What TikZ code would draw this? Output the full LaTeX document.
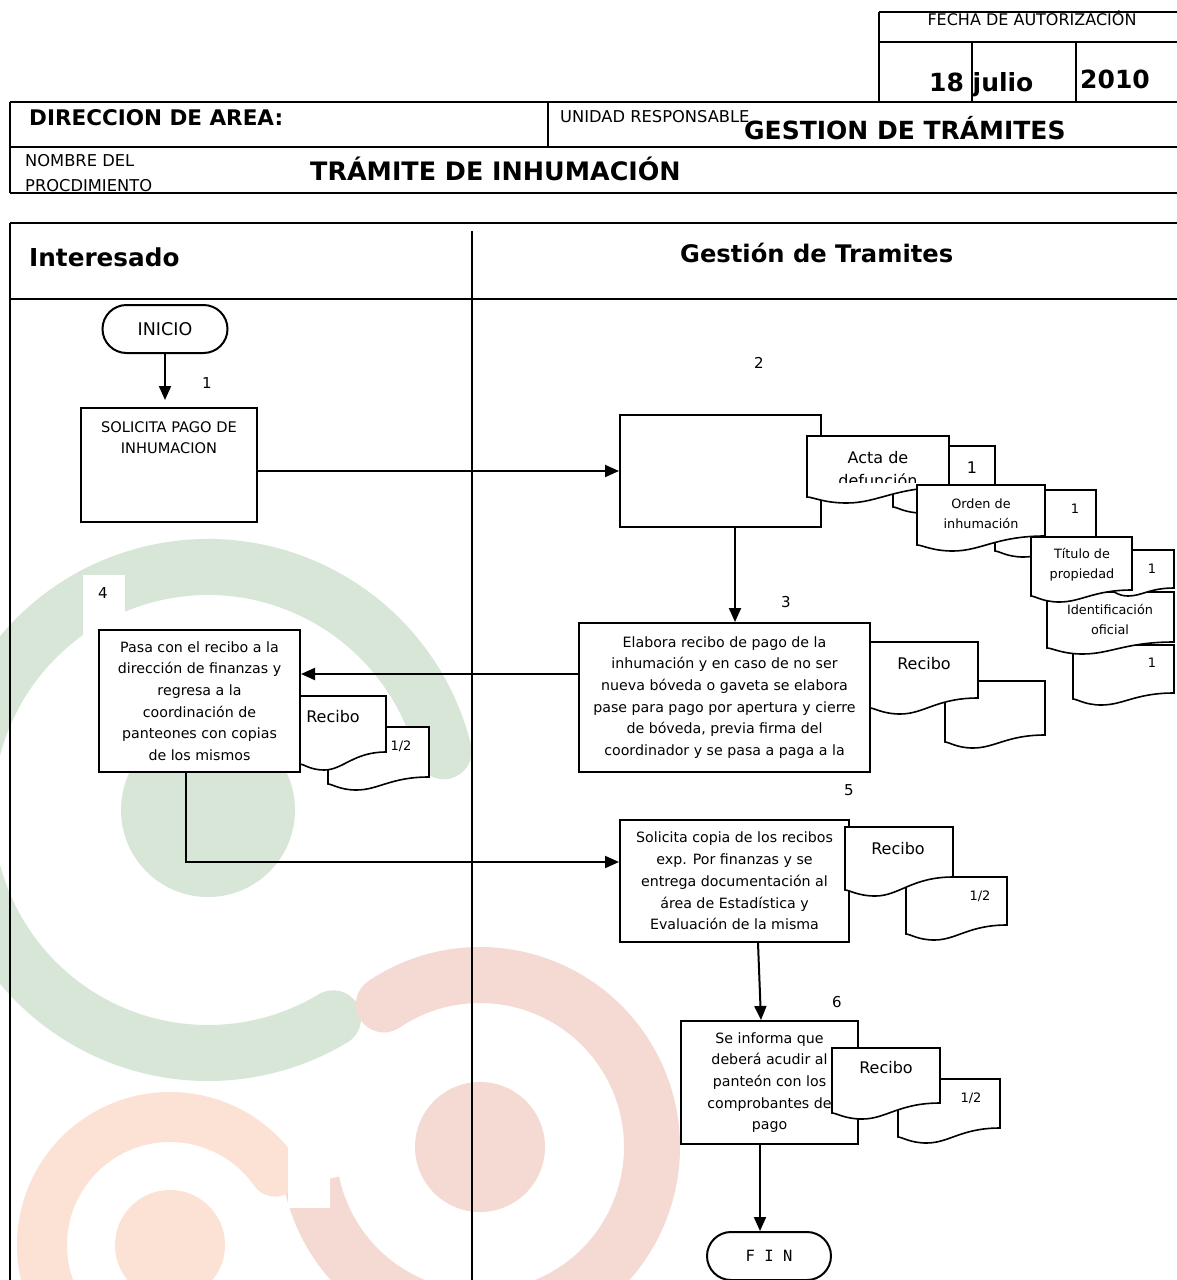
\documentclass[tikz,border=0pt]{standalone}
\usepackage{fontspec}
\setmainfont{DejaVu Sans}
\newfontfamily\monof{DejaVu Sans Mono}
\usetikzlibrary{arrows.meta}
\definecolor{wmgreen}{RGB}{215,230,215}
\definecolor{wmred}{RGB}{245,218,212}
\definecolor{wmpeach}{RGB}{251,226,212}
\newcommand{\fsz}[1]{\fontsize{#1}{#1}\selectfont}
\newcommand{\docshp}[5]{%
  \pgfmathsetmacro\dxa{#1}\pgfmathsetmacro\dya{#2}%
  \pgfmathsetmacro\dxb{#1+#3}%
  \pgfmathsetmacro\dyr{#2+#4}%
  \pgfmathsetmacro\dyl{#2+#4+#5}%
  \pgfmathsetmacro\dylow{#2+#4+#5+6}%
  \pgfmathsetmacro\dxlow{#1+0.28*#3}%
  \pgfmathsetmacro\dca{#1+0.62*#3}%
  \pgfmathsetmacro\dcb{#1+0.5*#3}%
  \pgfmathsetmacro\dcc{#1+0.12*#3}%
  \pgfmathsetmacro\dcd{#1+0.04*#3}%
  \filldraw[docsty] (\dxa,\dya) -- (\dxb,\dya) -- (\dxb,\dyr)
    .. controls (\dca,\dyr) and (\dcb,\dylow) .. (\dxlow,\dylow)
    .. controls (\dcc,\dylow) and (\dcd,\dyl) .. (\dxa,\dyl) -- cycle;}
\begin{document}
\begin{tikzpicture}[x=1pt,y=-1pt,
  tl/.style={line width=2pt},
  box/.style={draw, line width=2pt, fill=white, rectangle, inner sep=0pt, align=center,
     font=\fontsize{14.2}{21.7}\selectfont},
  term/.style={draw, line width=2pt, fill=white, rounded corners=24pt, minimum width=125pt,
     minimum height=48pt, inner sep=0pt},
  docsty/.style={draw, line width=1.6pt, fill=white},
  arr/.style={line width=2pt, -{Triangle[length=14pt,width=12pt]}},
  txt/.style={inner sep=0pt},
  lbl/.style={inner sep=0pt, font=\fsz{15}}]
\useasboundingbox (0,0) rectangle (1177,1280);
\clip (0,0) rectangle (1177,1280);
\fill[white] (0,0) rectangle (1177,1280);
% watermark
\draw[wmgreen, line width=56pt, line cap=round] ([shift={(14:243pt)}]208pt,-810pt) arc[start angle=14, end angle=301, radius=243pt];
\fill[wmgreen] (208pt,-810pt) circle[radius=87pt];
\draw[wmred, line width=56pt] ([shift={(124:172pt)}]480pt,-1147pt) arc[start angle=124, end angle=-168, radius=172pt];
\fill[wmred] ([shift={(124:172pt)}]480pt,-1147pt) circle[radius=28pt];
\fill[wmred] (480pt,-1147pt) circle[radius=65pt];
\draw[wmpeach, line width=50pt, line cap=round] ([shift={(35:128pt)}]170pt,-1245pt) arc[start angle=35, end angle=215, radius=128pt];
\fill[wmpeach] (170pt,-1245pt) circle[radius=55pt];
\fill[white] (83,575) rectangle (125,639);
\fill[white] (288,1143) rectangle (330,1208);
% header table
\draw[tl] (879,12) -- (1177,12);
\draw[tl] (879,12) -- (879,102);
\draw[tl] (879,42) -- (1177,42);
\draw[tl] (972,42) -- (972,102);
\draw[tl] (1076,42) -- (1076,102);
\draw[tl] (10,102) -- (1177,102);
\draw[tl] (10,147) -- (1177,147);
\draw[tl] (10,193) -- (1177,193);
\draw[tl] (10,102) -- (10,193);
\draw[tl] (548,102) -- (548,147);
\node[txt, font=\fsz{16}] (fecha) at (1032,18.5) {FECHA DE AUTORIZACIÓN};
\node[txt, font=\bfseries\fsz{25}, anchor=base west] (dia) at (929,91) {18 julio};
\node[txt, font=\bfseries\fsz{25}, anchor=base west] (anio) at (1080,88) {2010};
\node[txt, font=\bfseries\fsz{21.5}, anchor=west] (dir) at (29,118) {DIRECCION DE AREA:};
\node[txt, font=\fsz{16.3}, anchor=west] (unid) at (560,117) {UNIDAD RESPONSABLE};
\node[txt, font=\bfseries\fsz{25}, anchor=west] (gest) at (744,128) {GESTION DE TRÁMITES};
\node[txt, font=\fsz{16.3}, anchor=west] (nom1) at (25,161) {NOMBRE DEL};
\node[txt, font=\fsz{16.3}, anchor=west] (nom2) at (25,186) {PROCDIMIENTO};
\node[txt, font=\bfseries\fsz{25.4}, anchor=west] (tram) at (310,169) {TRÁMITE DE INHUMACIÓN};
% lanes
\draw[tl] (10,223) -- (1177,223);
\draw[tl] (10,223) -- (10,1280);
\draw[tl] (10,299) -- (1177,299);
\draw[tl] (472,231) -- (472,1280);
\node[txt, font=\bfseries\fsz{24.7}, anchor=west] (inte) at (29,257) {Interesado};
\node[txt, font=\bfseries\fsz{24.2}, anchor=west] (gt) at (680,253) {Gestión de Tramites};
% process
\node[term, font=\fsz{17.5}] (inicio) at (165,329) {INICIO};
\node[box, minimum width=176pt, minimum height=114pt] (b1) at (169,465) {};
\node[txt, align=center, font=\fontsize{14.6}{21}\selectfont] (b1t) at (169,437.5) {SOLICITA PAGO DE\\INHUMACION};
\node[box, minimum width=201pt, minimum height=112pt] (b2) at (720.5,471) {};
\node[box, minimum width=291pt, minimum height=149pt] (b3) at (724.5,697.5)
  {Elabora recibo de pago de la\\inhumación y en caso de no ser\\nueva bóveda o gaveta se elabora\\pase para pago por apertura y cierre\\de bóveda, previa firma del\\coordinador y se pasa a paga a la};
\node[box, minimum width=201pt, minimum height=142pt] (b4) at (199.5,701)
  {Pasa con el recibo a la\\dirección de finanzas y\\regresa a la\\coordinación de\\panteones con copias\\de los mismos};
\node[box, minimum width=229pt, minimum height=122pt] (b5) at (734.5,881)
  {Solicita copia de los recibos\\exp. Por finanzas y se\\entrega documentación al\\área de Estadística y\\Evaluación de la misma};
\node[box, minimum width=177pt, minimum height=123pt] (b6) at (769.5,1082.5)
  {Se informa que\\deberá acudir al\\panteón con los\\comprobantes de\\pago};
\node[term, minimum width=124pt, font=\monof\fsz{15.5}] (fin) at (769,1256) {F I N};
% documents
\docshp{328}{727}{101}{50}{7}
\docshp{300}{696}{86}{56}{12}
\node[txt, font=\fsz{16}] (r4) at (333,717) {Recibo};
\node[txt, font=\fsz{13}] (h4) at (401,746) {1/2};
\docshp{945}{681}{100}{54}{7}
\docshp{870}{642}{108}{56}{10}
\node[txt, font=\fsz{16}] (r3) at (924,664) {Recibo};
\docshp{906}{877}{101}{48}{9}
\docshp{845}{827}{108}{50}{13}
\node[txt, font=\fsz{16}] (r5) at (898,849) {Recibo};
\node[txt, font=\fsz{13}] (h5) at (980,896) {1/2};
\docshp{898}{1079}{102}{49}{9}
\docshp{832}{1048}{108}{55}{10}
\node[txt, font=\fsz{16}] (r6) at (886,1068) {Recibo};
\node[txt, font=\fsz{13}] (h6) at (971,1098) {1/2};
% document cascade of step 2
\docshp{893}{446}{102}{55}{6}
\node[txt, font=\fsz{16}] (u1) at (972,468) {1};
\docshp{807}{436}{142}{51}{10}
\begin{scope}
\clip (807,436) rectangle (949,482);
\node[txt, align=center, font=\fontsize{16}{23}\selectfont] (acta) at (878,469.5) {Acta de\\defunción};
\end{scope}
\docshp{995}{490}{101}{55}{6}
\node[txt, font=\fsz{13}] (u2) at (1075,509) {1};
\docshp{917}{485}{128}{51}{9}
\node[txt, align=center, font=\fontsize{12.8}{20}\selectfont] (orden) at (981,514) {Orden de\\inhumación};
\docshp{1073}{645}{101}{48}{6}
\node[txt, font=\fsz{13}] (u4) at (1152,663) {1};
\docshp{1047}{592}{127}{50}{6}
\node[txt, align=center, font=\fontsize{12.8}{19.5}\selectfont] (ident) at (1110,619.5) {Identificación\\oficial};
\docshp{1110}{550}{64}{38}{2}
\node[txt, font=\fsz{13}] (u3) at (1152,569) {1};
\docshp{1031}{537}{101}{53}{6}
\node[txt, align=center, font=\fontsize{12.8}{20}\selectfont] (titulo) at (1082,565) {Título de\\propiedad};
% connectors
\draw[arr, shorten >=7pt] (inicio.south) -- (inicio.south |- b1.north);
\draw[arr] (b1.east |- b2.west) -- (b2.west);
\draw[arr] ([xshift=14.5pt]b2.south) -- ([xshift=10.5pt]b3.north);
\draw[arr] ([yshift=23.5pt]b3.west) -- ([yshift=23.5pt]b3.west -| b4.east);
\draw[arr] ([xshift=-13.5pt]b4.south) |- ([yshift=19pt]b5.west);
\draw[arr] ([xshift=23.5pt]b5.south) -- ([xshift=-8.5pt]b6.north);
\draw[arr] ([xshift=-9.5pt]b6.south) -- ([xshift=-9pt]fin.north);
% step numbers
\node[lbl] (n1) at (207,383) {1};
\node[lbl] (n2) at (759,363) {2};
\node[lbl] (n3) at (786,602) {3};
\node[lbl] (n4) at (103,593) {4};
\node[lbl] (n5) at (849,790) {5};
\node[lbl] (n6) at (837,1002) {6};
\end{tikzpicture}
\end{document}
